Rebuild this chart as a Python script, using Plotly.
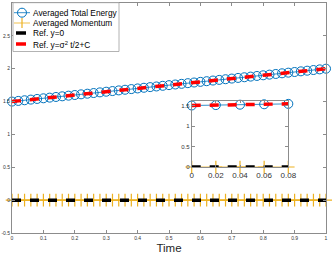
import plotly.graph_objects as go

# ---------------- data ----------------
time = [0.00, 0.02, 0.04, 0.06, 0.08, 0.10, 0.12, 0.14, 0.16, 0.18,
        0.20, 0.22, 0.24, 0.26, 0.28, 0.30, 0.32, 0.34, 0.36, 0.38,
        0.40, 0.42, 0.44, 0.46, 0.48, 0.50, 0.52, 0.54, 0.56, 0.58,
        0.60, 0.62, 0.64, 0.66, 0.68, 0.70, 0.72, 0.74, 0.76, 0.78,
        0.80, 0.82, 0.84, 0.86, 0.88, 0.90, 0.92, 0.94, 0.96, 0.98, 1.00]
energy = [1.50, 1.51, 1.52, 1.53, 1.54, 1.55, 1.56, 1.57, 1.58, 1.59,
          1.60, 1.61, 1.62, 1.63, 1.64, 1.65, 1.66, 1.67, 1.68, 1.69,
          1.70, 1.71, 1.72, 1.73, 1.74, 1.75, 1.76, 1.77, 1.78, 1.79,
          1.80, 1.81, 1.82, 1.83, 1.84, 1.85, 1.86, 1.87, 1.88, 1.89,
          1.90, 1.91, 1.92, 1.93, 1.94, 1.95, 1.96, 1.97, 1.98, 1.99, 2.00]
momentum = [0, 0, 0, 0, 0, 0, 0, 0, 0, 0,
            0, 0, 0, 0, 0, 0, 0, 0, 0, 0,
            0, 0, 0, 0, 0, 0, 0, 0, 0, 0,
            0, 0, 0, 0, 0, 0, 0, 0, 0, 0,
            0, 0, 0, 0, 0, 0, 0, 0, 0, 0, 0]
ref_zero = [0, 0, 0, 0, 0, 0, 0, 0, 0, 0,
            0, 0, 0, 0, 0, 0, 0, 0, 0, 0,
            0, 0, 0, 0, 0, 0, 0, 0, 0, 0,
            0, 0, 0, 0, 0, 0, 0, 0, 0, 0,
            0, 0, 0, 0, 0, 0, 0, 0, 0, 0, 0]
ref_energy = [1.50, 1.51, 1.52, 1.53, 1.54, 1.55, 1.56, 1.57, 1.58, 1.59,
              1.60, 1.61, 1.62, 1.63, 1.64, 1.65, 1.66, 1.67, 1.68, 1.69,
              1.70, 1.71, 1.72, 1.73, 1.74, 1.75, 1.76, 1.77, 1.78, 1.79,
              1.80, 1.81, 1.82, 1.83, 1.84, 1.85, 1.86, 1.87, 1.88, 1.89,
              1.90, 1.91, 1.92, 1.93, 1.94, 1.95, 1.96, 1.97, 1.98, 1.99, 2.00]
n_inset = 5  # inset shows t = 0 ... 0.08

x_ticks = [0, 0.1, 0.2, 0.3, 0.4, 0.5, 0.6, 0.7, 0.8, 0.9, 1]
x_ticktext = ["0", "0.1", "0.2", "0.3", "0.4", "0.5", "0.6", "0.7", "0.8", "0.9", "1"]
y_ticks = [-0.5, 0, 0.5, 1, 1.5, 2, 2.5]
y_ticktext = ["-0.5", "0", "0.5", "1", "1.5", "2", "2.5"]
inset_x_ticks = [0, 0.02, 0.04, 0.06, 0.08]
inset_x_ticktext = ["0", "0.02", "0.04", "0.06", "0.08"]
inset_y_ticks = [0, 0.5, 1, 1.5]
inset_y_ticktext = ["0", "0.5", "1", "1.5"]

legend_labels = ["Averaged Total Energy", "Averaged Momentum", "Ref. y=0",
                 "Ref. y=σ<sup>2</sup> t/2+C"]

# ---------------- styles ----------------
BLUE = "#0072BD"
ORANGE = "#EDB120"
RED = "#FF0000"
BLACK = "#000000"
AXC = "#8c8c8c"
FONT = "Liberation Sans, Arial, sans-serif"
DASH = "9px,9px"

W, H = 332, 254
ML, MR, MT, MB = 12, 6, 3, 21
PW, PH = W - ML - MR, H - MT - MB


def pxx(x):
    return (x - ML) / PW


def pxy(y):
    return (H - MB - y) / PH


fig = go.Figure()


def add_series(n, xa, ya):
    t = time[:n]
    fig.add_trace(go.Scatter(x=t, y=energy[:n], mode="lines+markers", xaxis=xa, yaxis=ya,
                             line=dict(color=BLUE, width=0.8),
                             marker=dict(symbol="circle-open", size=9, color=BLUE,
                                         line=dict(width=1, color=BLUE)),
                             cliponaxis=False, showlegend=False))
    fig.add_trace(go.Scatter(x=t, y=momentum[:n], mode="lines+markers", xaxis=xa, yaxis=ya,
                             line=dict(color=ORANGE, width=0.8),
                             marker=dict(symbol="cross-thin", size=9, color=ORANGE,
                                         line=dict(width=1.2, color=ORANGE)),
                             cliponaxis=False, showlegend=False))
    fig.add_trace(go.Scatter(x=t, y=ref_zero[:n], mode="lines", xaxis=xa, yaxis=ya,
                             line=dict(color=BLACK, width=3.5, dash=DASH),
                             cliponaxis=False, showlegend=False))
    fig.add_trace(go.Scatter(x=t, y=ref_energy[:n], mode="lines", xaxis=xa, yaxis=ya,
                             line=dict(color=RED, width=3.5, dash=DASH),
                             cliponaxis=False, showlegend=False))


add_series(len(time), "x", "y")
add_series(n_inset, "x2", "y2")

axis_common = dict(showline=True, linecolor=AXC, linewidth=1, mirror="ticks",
                   ticks="inside", tickcolor=AXC, ticklen=3, tickwidth=1,
                   showgrid=False, zeroline=False, tickmode="array")

fig.update_layout(
    width=W, height=H,
    margin=dict(l=ML, r=MR, t=MT, b=MB, autoexpand=False),
    paper_bgcolor="white", plot_bgcolor="white",
    font=dict(family=FONT, color="#262626"),
    showlegend=False,
    xaxis=dict(range=[0, 1], tickvals=x_ticks, ticktext=x_ticktext,
               tickfont=dict(size=5, color="#333"),
               title=dict(text="Time", font=dict(size=11.5, color="#262626"), standoff=5),
               **axis_common),
    yaxis=dict(range=[-0.5, 3], tickvals=y_ticks, ticktext=y_ticktext,
               tickfont=dict(size=5, color="#333"), **axis_common),
    xaxis2=dict(domain=[pxx(191.7), pxx(288.3)], anchor="y2", range=[0, 0.08],
                tickvals=inset_x_ticks, ticktext=inset_x_ticktext,
                tickfont=dict(size=8, color="#333"), **axis_common),
    yaxis2=dict(domain=[pxy(167), pxy(100.7)], anchor="x2", range=[0, 1.617],
                tickvals=inset_y_ticks, ticktext=inset_y_ticktext,
                tickfont=dict(size=6, color="#333"), **axis_common),
)
fig.update_xaxes(ticklen=2, selector=dict(anchor="y2"))

# ---------------- hand-built compact legend (MATLAB style) ----------------
shapes = []
annots = []
shapes.append(dict(type="rect", xref="paper", yref="paper",
                   x0=pxx(13), x1=pxx(119), y0=pxy(51.5), y1=pxy(2.7),
                   fillcolor="white", line=dict(color="#a0a0a0", width=0.8), layer="above"))
rows = [12.7, 23.0, 33.0, 44.0]
# energy sample
shapes.append(dict(type="line", xref="paper", yref="paper", x0=pxx(14), x1=pxx(30),
                   y0=pxy(rows[0]), y1=pxy(rows[0]), line=dict(color=BLUE, width=0.8), layer="above"))
shapes.append(dict(type="circle", xref="paper", yref="paper", x0=pxx(17.5), x1=pxx(26.5),
                   y0=pxy(rows[0] + 4.5), y1=pxy(rows[0] - 4.5),
                   line=dict(color=BLUE, width=1), layer="above"))
# momentum sample
shapes.append(dict(type="line", xref="paper", yref="paper", x0=pxx(14), x1=pxx(30),
                   y0=pxy(rows[1]), y1=pxy(rows[1]), line=dict(color=ORANGE, width=0.8), layer="above"))
shapes.append(dict(type="line", xref="paper", yref="paper", x0=pxx(22), x1=pxx(22),
                   y0=pxy(rows[1] - 5), y1=pxy(rows[1] + 5), line=dict(color=ORANGE, width=1.2), layer="above"))
# ref lines
shapes.append(dict(type="line", xref="paper", yref="paper", x0=pxx(16), x1=pxx(26),
                   y0=pxy(rows[2]), y1=pxy(rows[2]), line=dict(color=BLACK, width=3.5), layer="above"))
shapes.append(dict(type="line", xref="paper", yref="paper", x0=pxx(16), x1=pxx(26),
                   y0=pxy(rows[3]), y1=pxy(rows[3]), line=dict(color=RED, width=3.5), layer="above"))
text_rows = [12.7, 23.0, 33.3, 45.0]
for lab, ty in zip(legend_labels, text_rows):
    annots.append(dict(text=lab, xref="paper", yref="paper", x=pxx(30.5), y=pxy(ty),
                       xanchor="left", yanchor="middle", showarrow=False,
                       font=dict(size=8.3, color="#000", family=FONT)))

fig.update_layout(shapes=shapes, annotations=annots)

fig.write_html("out.html", config={"displayModeBar": False},
               post_script="document.body.style.margin='0';")
